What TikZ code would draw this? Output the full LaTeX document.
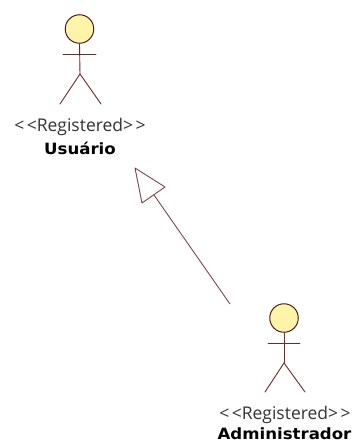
\documentclass[tikz,border=0pt]{standalone}
\usepackage{fontspec}
\setmainfont{DejaVu Sans}
\newfontfamily\stereofont[Ligatures=NoCommon]{Open Sans}
\newfontfamily\namefont[FakeStretch=1.07]{DejaVu Sans Bold}
\definecolor{actorline}{HTML}{6E2A2A}
\definecolor{headfill}{HTML}{FFF4A8}
\definecolor{inkline}{HTML}{7A4A4A}
\tikzset{
  limb/.style={draw=actorline,line width=0.9pt,line cap=round},
  head/.style={circle,draw=actorline!70!black,fill=headfill,line width=1pt,inner sep=0pt,minimum size=28.5pt},
  stereo/.style={inner sep=0pt,font=\stereofont\fontsize{17.5}{19}\selectfont,text=black!80},
  actorname/.style={inner sep=0pt,font=\namefont\fontsize{15.5}{17}\selectfont,text=black},
}
\tikzset{gen/.style={draw=inkline,line width=0.9pt}}
\newcommand{\stereotext}{{<}\kern2.5pt{<}Registered{>}\kern2.5pt{>}}
\begin{document}
\begin{tikzpicture}[x=1pt,y=-1pt]
\useasboundingbox (0,0) rectangle (358,443);
\fill[white] (0,0) rectangle (358,443);
% Usuario actor
\node[head] (h1) at (79.5,29) {};
\coordinate (h1hip) at (80,74);
\draw[limb] (h1.south) -- (h1hip);
\coordinate (h1al) at (63,54);
\coordinate (h1ar) at (96,54);
\draw[limb] (h1al) -- (h1ar);
\coordinate (h1ll) at (60,104);
\coordinate (h1lr) at (101,104);
\draw[limb] (h1ll) -- (h1hip) -- (h1lr);
\node[stereo] (s1) at (80,126.5) {\stereotext};
\node[actorname] (n1) at (80,148) {Usuário};
% Administrador actor
\node[head] (h2) at (284,318) {};
\coordinate (h2hip) at (284,363);
\draw[limb] (h2.south) -- (h2hip);
\coordinate (h2al) at (268,343.5);
\coordinate (h2ar) at (300,343.5);
\draw[limb] (h2al) -- (h2ar);
\coordinate (h2ll) at (265,392);
\coordinate (h2lr) at (305,392);
\draw[limb] (h2ll) -- (h2hip) -- (h2lr);
\node[stereo] (s2) at (285,414.5) {\stereotext};
\node[actorname] (n2) at (284.5,434) {Administrador};
% Generalization
\coordinate (tip) at (135,168);
\coordinate (c1) at (165,187);
\coordinate (c2) at (142,203);
\coordinate (base) at (154,195);
\coordinate (tail) at (230,304);
\draw[gen,line join=round] (tip) -- (c1) -- (c2) -- cycle;
\draw[gen] (base) -- (tail);
\end{tikzpicture}
\end{document}
